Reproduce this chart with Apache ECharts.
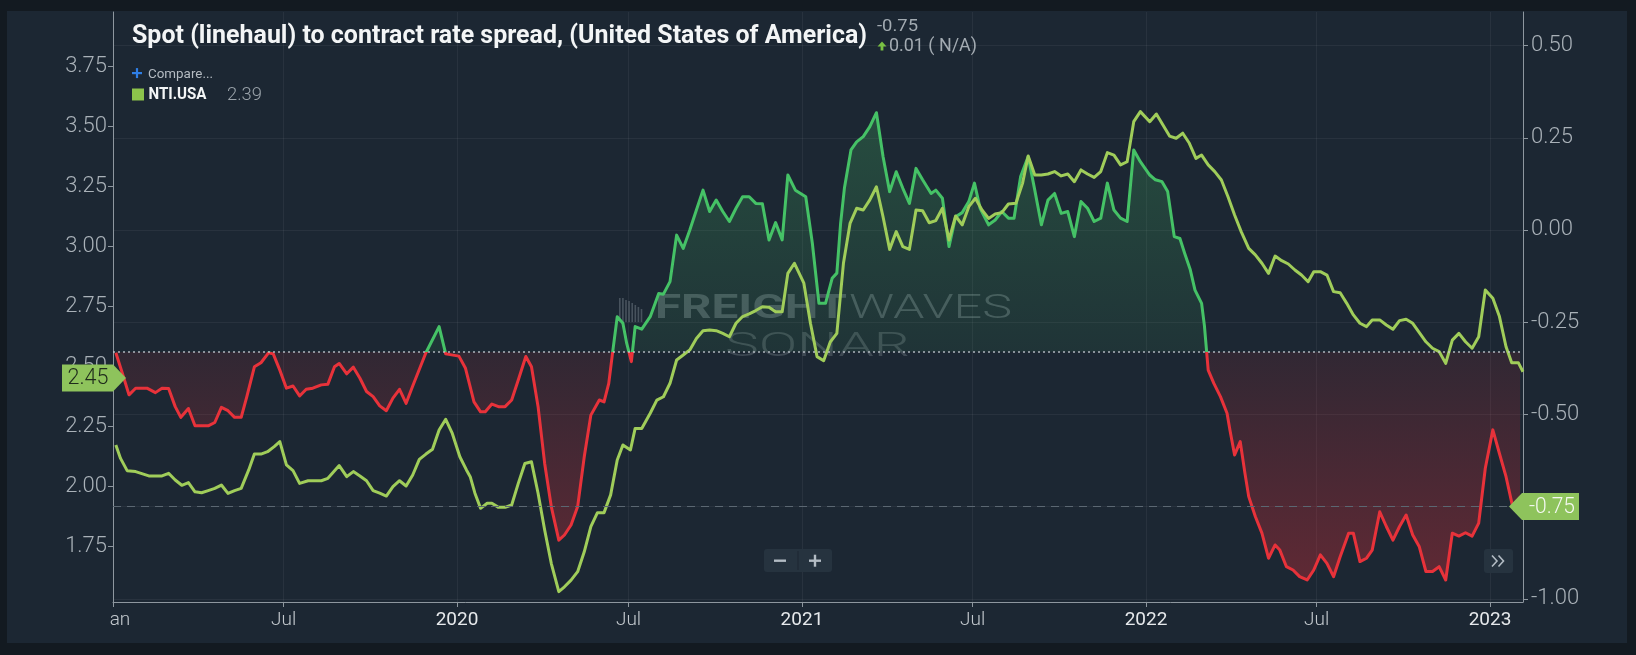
<!DOCTYPE html>
<html>
<head>
<meta charset="utf-8">
<title>Spot (linehaul) to contract rate spread</title>
<script src="https://cdn.jsdelivr.net/npm/echarts@6.0.0/dist/echarts.min.js"></script>
<style>
html,body{margin:0;padding:0;background:#131a21;overflow:hidden}
#chart{width:1636px;height:655px}
</style>
</head>
<body>
<div id="chart"></div>
<script>
// ---------------- DATA ----------------
const titleText = 'Spot (linehaul) to contract rate spread, (United States of America)';
const headerValue = '-0.75';
const headerChange = '0.01 ( N/A)';
const compareText = 'Compare...';
const legendName = 'NTI.USA';
const legendValue = '2.39';
const baselineValue = -0.33;   // first value of the spread: baseline of the fill
const lastSpread = -0.75;
const lastNti = 2.45;

const spreadDates = ['2019-01-04','2019-01-11','2019-01-18','2019-01-25','2019-02-06','2019-02-15','2019-02-22','2019-03-01','2019-03-08','2019-03-14','2019-03-22','2019-03-29','2019-04-12','2019-04-19','2019-04-26','2019-05-03','2019-05-10','2019-05-17','2019-05-23','2019-05-31','2019-06-07','2019-06-15','2019-06-20','2019-06-27','2019-07-04','2019-07-11','2019-07-18','2019-07-25','2019-08-01','2019-08-10','2019-08-17','2019-08-24','2019-08-29','2019-09-06','2019-09-13','2019-09-20','2019-09-27','2019-10-04','2019-10-11','2019-10-18','2019-10-25','2019-11-01','2019-11-08','2019-11-15','2019-11-29','2019-12-13','2019-12-20','2020-01-03','2020-01-10','2020-01-19','2020-01-26','2020-01-31','2020-02-07','2020-02-14','2020-02-21','2020-02-28','2020-03-06','2020-03-14','2020-03-20','2020-03-27','2020-04-03','2020-04-10','2020-04-18','2020-04-24','2020-05-01','2020-05-08','2020-05-15','2020-05-22','2020-05-31','2020-06-05','2020-06-10','2020-06-14','2020-06-19','2020-06-25','2020-06-29','2020-07-04','2020-07-08','2020-07-15','2020-07-24','2020-08-02','2020-08-07','2020-08-14','2020-08-21','2020-08-28','2020-09-04','2020-09-11','2020-09-18','2020-09-25','2020-10-02','2020-10-09','2020-10-16','2020-10-23','2020-10-30','2020-11-06','2020-11-13','2020-11-20','2020-11-27','2020-12-04','2020-12-11','2020-12-17','2020-12-25','2021-01-05','2021-01-12','2021-01-19','2021-01-26','2021-02-02','2021-02-07','2021-02-11','2021-02-15','2021-02-22','2021-02-28','2021-03-07','2021-03-14','2021-03-21','2021-03-28','2021-04-04','2021-04-11','2021-04-18','2021-04-25','2021-05-02','2021-05-09','2021-05-18','2021-05-23','2021-05-30','2021-06-06','2021-06-13','2021-06-20','2021-06-27','2021-07-03','2021-07-09','2021-07-18','2021-07-25','2021-08-01','2021-08-08','2021-08-14','2021-08-21','2021-08-29','2021-09-05','2021-09-12','2021-09-19','2021-09-26','2021-10-03','2021-10-10','2021-10-17','2021-10-24','2021-10-31','2021-11-07','2021-11-14','2021-11-21','2021-11-28','2021-12-05','2021-12-12','2021-12-19','2021-12-26','2022-01-05','2022-01-11','2022-01-18','2022-01-24','2022-01-31','2022-02-06','2022-02-11','2022-02-17','2022-02-22','2022-03-01','2022-03-04','2022-03-08','2022-03-14','2022-03-21','2022-03-28','2022-03-31','2022-04-05','2022-04-11','2022-04-16','2022-04-20','2022-04-27','2022-05-04','2022-05-11','2022-05-18','2022-05-23','2022-05-30','2022-06-06','2022-06-13','2022-06-21','2022-06-28','2022-07-05','2022-07-12','2022-07-19','2022-07-26','2022-08-04','2022-08-09','2022-08-16','2022-08-23','2022-08-29','2022-09-06','2022-09-13','2022-09-20','2022-09-27','2022-10-04','2022-10-11','2022-10-18','2022-10-25','2022-11-01','2022-11-08','2022-11-15','2022-11-22','2022-11-29','2022-12-06','2022-12-13','2022-12-20','2022-12-27','2023-01-04','2023-01-11','2023-01-18','2023-01-25','2023-02-02'];
const spreadValues = [-0.333,-0.389,-0.447,-0.429,-0.429,-0.441,-0.429,-0.430,-0.479,-0.508,-0.484,-0.531,-0.531,-0.522,-0.481,-0.490,-0.508,-0.508,-0.452,-0.371,-0.360,-0.333,-0.336,-0.380,-0.429,-0.423,-0.450,-0.432,-0.429,-0.420,-0.418,-0.371,-0.362,-0.390,-0.372,-0.402,-0.438,-0.452,-0.477,-0.490,-0.456,-0.432,-0.470,-0.423,-0.333,-0.262,-0.336,-0.342,-0.375,-0.466,-0.493,-0.493,-0.472,-0.479,-0.479,-0.461,-0.407,-0.343,-0.371,-0.479,-0.633,-0.750,-0.841,-0.827,-0.800,-0.750,-0.615,-0.502,-0.461,-0.466,-0.416,-0.334,-0.235,-0.253,-0.307,-0.357,-0.262,-0.269,-0.235,-0.172,-0.174,-0.140,-0.014,-0.050,0.000,0.054,0.108,0.050,0.081,0.050,0.023,0.059,0.090,0.090,0.072,0.071,-0.027,0.020,-0.027,0.149,0.108,0.090,-0.036,-0.199,-0.199,-0.131,-0.117,0.018,0.113,0.217,0.239,0.253,0.280,0.318,0.199,0.104,0.158,0.113,0.072,0.167,0.136,0.099,0.108,0.086,-0.045,0.036,0.047,0.077,0.127,0.059,0.014,0.027,0.050,0.032,0.032,0.145,0.199,0.108,0.014,0.081,0.099,0.045,0.050,-0.018,0.077,0.059,0.023,0.032,0.127,0.054,0.032,0.023,0.217,0.185,0.149,0.136,0.131,0.104,-0.018,-0.023,-0.063,-0.108,-0.163,-0.199,-0.260,-0.380,-0.416,-0.452,-0.497,-0.542,-0.610,-0.574,-0.660,-0.723,-0.777,-0.822,-0.890,-0.854,-0.868,-0.913,-0.922,-0.940,-0.949,-0.922,-0.881,-0.904,-0.940,-0.886,-0.822,-0.822,-0.899,-0.890,-0.868,-0.764,-0.804,-0.841,-0.804,-0.773,-0.827,-0.859,-0.926,-0.926,-0.913,-0.949,-0.822,-0.830,-0.821,-0.830,-0.795,-0.646,-0.542,-0.606,-0.669,-0.750,-0.752];

const ntiDates = ['2019-01-04','2019-01-09','2019-01-16','2019-01-25','2019-02-08','2019-02-22','2019-03-01','2019-03-08','2019-03-15','2019-03-22','2019-03-29','2019-04-05','2019-04-12','2019-04-19','2019-04-26','2019-05-03','2019-05-10','2019-05-17','2019-05-25','2019-05-31','2019-06-07','2019-06-14','2019-06-21','2019-06-27','2019-07-04','2019-07-11','2019-07-18','2019-07-27','2019-08-10','2019-08-17','2019-08-29','2019-09-06','2019-09-13','2019-09-20','2019-09-27','2019-10-04','2019-10-11','2019-10-18','2019-10-25','2019-11-01','2019-11-08','2019-11-15','2019-11-22','2019-11-29','2019-12-06','2019-12-13','2019-12-20','2019-12-27','2020-01-04','2020-01-11','2020-01-15','2020-01-20','2020-01-26','2020-02-02','2020-02-07','2020-02-14','2020-02-21','2020-02-28','2020-03-06','2020-03-13','2020-03-20','2020-03-27','2020-04-03','2020-04-10','2020-04-18','2020-04-24','2020-05-01','2020-05-08','2020-05-15','2020-05-22','2020-05-29','2020-06-05','2020-06-12','2020-06-19','2020-06-25','2020-07-03','2020-07-08','2020-07-15','2020-07-24','2020-07-31','2020-08-07','2020-08-14','2020-08-21','2020-08-28','2020-09-04','2020-09-11','2020-09-18','2020-09-25','2020-10-02','2020-10-09','2020-10-16','2020-10-23','2020-10-30','2020-11-06','2020-11-13','2020-11-20','2020-11-27','2020-12-04','2020-12-11','2020-12-17','2020-12-24','2021-01-03','2021-01-10','2021-01-17','2021-01-24','2021-01-31','2021-02-07','2021-02-14','2021-02-21','2021-02-28','2021-03-07','2021-03-14','2021-03-21','2021-03-28','2021-04-04','2021-04-11','2021-04-18','2021-04-25','2021-05-02','2021-05-09','2021-05-16','2021-05-23','2021-05-30','2021-06-06','2021-06-13','2021-06-20','2021-06-27','2021-07-04','2021-07-11','2021-07-18','2021-07-25','2021-08-01','2021-08-08','2021-08-16','2021-08-23','2021-08-29','2021-09-05','2021-09-12','2021-09-19','2021-09-26','2021-10-03','2021-10-10','2021-10-17','2021-10-24','2021-10-31','2021-11-07','2021-11-14','2021-11-21','2021-11-28','2021-12-05','2021-12-12','2021-12-19','2021-12-26','2022-01-05','2022-01-12','2022-01-19','2022-01-26','2022-02-02','2022-02-09','2022-02-16','2022-02-23','2022-03-01','2022-03-08','2022-03-15','2022-03-22','2022-03-29','2022-04-05','2022-04-12','2022-04-20','2022-04-27','2022-05-04','2022-05-11','2022-05-18','2022-05-25','2022-06-01','2022-06-08','2022-06-15','2022-06-22','2022-06-28','2022-07-05','2022-07-12','2022-07-19','2022-07-26','2022-08-02','2022-08-09','2022-08-16','2022-08-23','2022-08-29','2022-09-06','2022-09-13','2022-09-20','2022-09-27','2022-10-04','2022-10-11','2022-10-18','2022-10-25','2022-11-01','2022-11-08','2022-11-15','2022-11-22','2022-11-29','2022-12-06','2022-12-13','2022-12-20','2022-12-27','2023-01-04','2023-01-11','2023-01-18','2023-01-24','2023-01-31','2023-02-05'];
const ntiValues = [2.171,2.115,2.064,2.060,2.042,2.042,2.053,2.025,2.003,2.014,1.976,1.972,1.981,1.990,2.004,1.969,1.981,1.990,2.067,2.133,2.133,2.143,2.164,2.185,2.088,2.064,2.011,2.022,2.022,2.032,2.085,2.039,2.060,2.042,2.022,1.981,1.970,1.958,1.997,2.022,2.000,2.046,2.111,2.133,2.153,2.233,2.278,2.219,2.122,2.067,2.039,1.970,1.907,1.928,1.928,1.911,1.911,1.921,2.011,2.094,2.101,1.970,1.817,1.678,1.560,1.580,1.608,1.643,1.726,1.831,1.889,1.889,1.963,2.108,2.171,2.150,2.240,2.240,2.303,2.358,2.372,2.428,2.525,2.546,2.567,2.615,2.647,2.650,2.647,2.636,2.622,2.678,2.706,2.717,2.731,2.747,2.745,2.726,2.726,2.886,2.928,2.845,2.678,2.539,2.522,2.600,2.636,2.928,3.094,3.157,3.150,3.192,3.247,3.122,2.986,3.060,2.997,2.986,3.150,3.147,3.097,3.106,3.157,3.025,3.125,3.088,3.164,3.199,3.150,3.115,3.133,3.139,3.175,3.178,3.261,3.375,3.296,3.296,3.300,3.310,3.292,3.300,3.268,3.317,3.300,3.286,3.310,3.389,3.379,3.338,3.351,3.518,3.560,3.518,3.550,3.504,3.458,3.449,3.470,3.428,3.365,3.379,3.338,3.310,3.275,3.205,3.129,3.060,2.990,2.963,2.928,2.886,2.958,2.939,2.925,2.900,2.879,2.851,2.893,2.893,2.879,2.810,2.805,2.761,2.713,2.678,2.664,2.692,2.692,2.671,2.653,2.689,2.695,2.678,2.639,2.601,2.574,2.560,2.511,2.608,2.636,2.601,2.574,2.622,2.817,2.782,2.706,2.580,2.514,2.514,2.476];

const leftTicks = [1.75, 2.00, 2.25, 2.50, 2.75, 3.00, 3.25, 3.50, 3.75];
const rightTicks = [-1.00, -0.75, -0.50, -0.25, 0.00, 0.25, 0.50];
const xTickDates = ['2019-01-01','2019-07-01','2020-01-01','2020-07-01','2021-01-01','2021-07-01','2022-01-01','2022-07-01','2023-01-01'];
const xTickLabels = ['an','Jul','2020','Jul','2021','Jul','2022','Jul','2023'];
const xRange = ['2019-01-01','2023-02-05'];

// ---------------- STYLE / LAYOUT ----------------
const W = 1636, H = 655;
const GRID = {left: 113, right: 113, top: 12, bottom: 53};
const PLOT_TOP = GRID.top, PLOT_BOTTOM = H - GRID.bottom;
const LEFT_RANGE = [1.5167, 3.975];
const RIGHT_RANGE = [-1.0087, 0.591];
const C = {
  outer: '#131a21', panel: '#1c2733', axis: '#8e979f', label: '#a9b1b8',
  grid: 'rgba(255,255,255,0.055)', nti: '#a0cd5a', green: '#45c266', red: '#e8323a',
  tag: '#8ec35c'
};
const FONT = 'Roboto, "Noto Sans", sans-serif';

const toTs = s => Date.parse(s + 'T00:00:00Z');
const spreadData = spreadDates.map((d, i) => [toTs(d), spreadValues[i]]);
const ntiData = ntiDates.map((d, i) => [toTs(d), ntiValues[i]]);
const xTickTs = xTickDates.map(toTs);

const mctx = document.createElement('canvas').getContext('2d');
function fitScale(text, font, width) { mctx.font = font; return width / mctx.measureText(text).width; }

// global gradient with a hard switch at the baseline value
const baseFrac = (RIGHT_RANGE[1] - baselineValue) / (RIGHT_RANGE[1] - RIGHT_RANGE[0]);
const lineGrad = {
  type: 'linear', x: 0, y: PLOT_TOP, x2: 0, y2: PLOT_BOTTOM, global: true,
  colorStops: [
    {offset: 0, color: C.green}, {offset: baseFrac, color: C.green},
    {offset: baseFrac, color: C.red}, {offset: 1, color: C.red}
  ]
};
const areaGrad = {
  type: 'linear', x: 0, y: PLOT_TOP, x2: 0, y2: PLOT_BOTTOM, global: true,
  colorStops: [
    {offset: 0, color: 'rgba(70,190,100,0.46)'}, {offset: baseFrac, color: 'rgba(70,190,100,0.12)'},
    {offset: baseFrac, color: 'rgba(225,45,55,0.15)'}, {offset: 1, color: 'rgba(225,45,55,0.52)'}
  ]
};

const chart = echarts.init(document.getElementById('chart'), null, {renderer: 'canvas', width: W, height: H});

const option = {
  backgroundColor: C.panel,
  animation: false,
  grid: GRID,
  xAxis: {
    type: 'value', min: toTs(xRange[0]), max: toTs(xRange[1]),
    axisLine: {show: true, onZero: false, lineStyle: {color: C.axis, width: 1}},
    axisTick: {show: true, customValues: xTickTs, length: 5, lineStyle: {color: C.axis}},
    splitLine: {show: true, lineStyle: {color: C.grid, width: 1}},
    axisLabel: {
      customValues: xTickTs, margin: 9,
      formatter: v => {
        const i = xTickTs.indexOf(v);
        const t = i >= 0 ? xTickLabels[i] : '';
        if (i === 0) return '{a|' + t + '}';
        return /^\d{4}$/.test(t) ? '{y|' + t + '}' : '{m|' + t + '}';
      },
      rich: {
        a: {color: '#c3c9ce', fontSize: 19, fontFamily: FONT, fontWeight: 300, padding: [0, 0, 0, 14]},
        m: {color: '#c3c9ce', fontSize: 19, fontFamily: FONT, fontWeight: 300},
        y: {color: '#e6e9ec', fontSize: 19, fontFamily: FONT, fontWeight: 400}
      }
    }
  },
  yAxis: [
    {
      type: 'value', position: 'left', min: LEFT_RANGE[0], max: LEFT_RANGE[1],
      axisLine: {show: true, lineStyle: {color: C.axis, width: 1}},
      axisTick: {show: true, customValues: leftTicks, length: 5, lineStyle: {color: C.axis}},
      splitLine: {show: false},
      axisLabel: {customValues: leftTicks, margin: 6, color: C.label, fontSize: 22, fontFamily: FONT, fontWeight: 300,
        formatter: v => v.toFixed(2)}
    },
    {
      type: 'value', position: 'right', min: RIGHT_RANGE[0], max: RIGHT_RANGE[1],
      axisLine: {show: true, lineStyle: {color: C.axis, width: 1}},
      axisTick: {show: true, customValues: rightTicks, length: 5, lineStyle: {color: C.axis}},
      splitLine: {show: true, lineStyle: {color: C.grid, width: 1}},
      axisLabel: {customValues: rightTicks, margin: 8, color: C.label, fontSize: 22, fontFamily: FONT, fontWeight: 300,
        formatter: v => v.toFixed(2)}
    }
  ],
  series: [
    {
      name: 'Spread', type: 'line', yAxisIndex: 1, data: spreadData,
      symbol: 'none', showSymbol: false, silent: true, z: 3,
      lineStyle: {width: 3, color: lineGrad, join: 'round'},
      areaStyle: {origin: baselineValue, color: areaGrad},
      markLine: {
        silent: true, symbol: ['none', 'none'], label: {show: false}, animation: false,
        data: [
          {yAxis: baselineValue, lineStyle: {type: [2, 3], color: 'rgba(200,207,214,0.85)', width: 1.6}},
          {yAxis: lastSpread, lineStyle: {type: [8, 6], color: '#5b6772', width: 1.2}}
        ]
      }
    },
    {
      name: legendName, type: 'line', yAxisIndex: 0, data: ntiData,
      symbol: 'none', showSymbol: false, silent: true, z: 4,
      lineStyle: {width: 3, color: C.nti, join: 'round'}
    }
  ]
};
chart.setOption(option);

// ---------------- overlays ----------------
const ryPix = chart.convertToPixel({yAxisIndex: 1}, lastSpread);
const lyPix = chart.convertToPixel({yAxisIndex: 0}, lastNti);

function txt(text, x, y, font, fill, width, extra) {
  const el = {
    type: 'text', x: x, y: y, z: 60,
    style: Object.assign({text: text, font: font, fill: fill, align: 'left', verticalAlign: 'middle',
      textAlign: 'left', textVerticalAlign: 'middle'}, extra || {})
  };
  if (width) el.scaleX = fitScale(text, font, width);
  return el;
}
function ctxt(text, x, y, font, fill, width) {
  return {type: 'text', z: 71, x: x, y: y, scaleX: fitScale(text, font, width),
    style: {text: text, font: font, fill: fill, align: 'center', verticalAlign: 'middle',
      textAlign: 'center', textVerticalAlign: 'middle'}};
}

const wm = 'rgba(150,160,168,0.36)';
const barcode = [];
const barH = [24, 24, 22, 21, 19, 17, 15, 13];
barH.forEach((h, i) => barcode.push({type: 'rect', z: 1, silent: true,
  shape: {x: 619 + i * 3.1, y: 322 - h, width: 1.6, height: h}, style: {fill: wm}}));

const graphics = [
  // outer frame
  {type: 'rect', z: 100, shape: {x: 0, y: 0, width: W, height: 11}, style: {fill: C.outer}},
  {type: 'rect', z: 100, shape: {x: 0, y: 643, width: W, height: 12}, style: {fill: C.outer}},
  {type: 'rect', z: 100, shape: {x: 0, y: 0, width: 7, height: H}, style: {fill: C.outer}},
  {type: 'rect', z: 100, shape: {x: 1627, y: 0, width: 9, height: H}, style: {fill: C.outer}},
  // watermark
  ...barcode,
  Object.assign(txt('FREIGHT', 655, 310, 'bold 33px ' + FONT, wm, 192), {z: 1}),
  Object.assign(txt('WAVES', 849, 310, '300 33px ' + FONT, wm, 163), {z: 1}),
  Object.assign(txt('SONAR', 725, 347, '300 34px ' + FONT, 'rgba(150,160,168,0.28)', 185), {z: 1}),
  // title + header
  txt(titleText, 132, 36, 'bold 26px ' + FONT, '#f3f5f6', 735),
  txt(headerValue, 877, 27, '17px ' + FONT, '#a3abb2', 41),
  {type: 'polygon', z: 60, shape: {points: [[882, 41.5], [886.5, 46.5], [877.5, 46.5]]}, style: {fill: '#79c043'}},
  {type: 'rect', z: 60, shape: {x: 880.6, y: 46, width: 2.8, height: 4.5}, style: {fill: '#79c043'}},
  txt(headerChange, 889, 46, '18px ' + FONT, '#a3abb2', 88),
  // legend
  {type: 'rect', z: 60, shape: {x: 132, y: 72, width: 10, height: 2.2}, style: {fill: '#2f7fe6'}},
  {type: 'rect', z: 60, shape: {x: 135.9, y: 68.1, width: 2.2, height: 10}, style: {fill: '#2f7fe6'}},
  txt(compareText, 148, 75, '13px ' + FONT, '#b4bbc2', 65),
  {type: 'rect', z: 60, shape: {x: 132, y: 88.5, width: 12, height: 12}, style: {fill: '#8cc34b'}},
  txt(legendName, 148.5, 95, 'bold 16px ' + FONT, '#f3f5f6', 58),
  txt(legendValue, 227, 95.5, '300 19px ' + FONT, '#9aa3aa', 35),
  // zoom buttons
  {type: 'rect', z: 60, shape: {x: 764, y: 549, width: 68, height: 23, r: 3}, style: {fill: '#26333f'}},
  {type: 'rect', z: 61, shape: {x: 797.5, y: 551, width: 1, height: 19}, style: {fill: '#1c2733'}},
  {type: 'rect', z: 61, shape: {x: 774, y: 559.5, width: 12, height: 2.4}, style: {fill: '#b3bcc4'}},
  {type: 'rect', z: 61, shape: {x: 809, y: 559.5, width: 12, height: 2.4}, style: {fill: '#b3bcc4'}},
  {type: 'rect', z: 61, shape: {x: 813.8, y: 554.7, width: 2.4, height: 12}, style: {fill: '#b3bcc4'}},
  {type: 'rect', z: 60, shape: {x: 1484, y: 549, width: 29, height: 24, r: 3}, style: {fill: '#26333f'}},
  {type: 'polyline', z: 61, shape: {points: [[1492, 555.5], [1497, 561], [1492, 566.5]]}, style: {stroke: '#b3bcc4', lineWidth: 1.6, fill: null}},
  {type: 'polyline', z: 61, shape: {points: [[1498.5, 555.5], [1503.5, 561], [1498.5, 566.5]]}, style: {stroke: '#b3bcc4', lineWidth: 1.6, fill: null}},
  // right value tag
  {type: 'polygon', z: 70, shape: {points: [[1509, ryPix], [1522, ryPix - 13.5], [1579, ryPix - 13.5], [1579, ryPix + 13.5], [1522, ryPix + 13.5]]},
    style: {fill: C.tag}},
  ctxt(lastSpread.toFixed(2), 1552, ryPix + 0.5, '300 22px ' + FONT, '#f4f8f1', 46),
  // left value tag
  {type: 'polygon', z: 70, shape: {points: [[62, lyPix - 13.5], [113, lyPix - 13.5], [126, lyPix], [113, lyPix + 13.5], [62, lyPix + 13.5]]},
    style: {fill: C.tag}},
  ctxt(lastNti.toFixed(2), 88, lyPix + 0.5, '300 22px ' + FONT, '#1f2b1c', 41)
];
chart.setOption({graphic: {elements: graphics}});
</script>
</body>
</html>
